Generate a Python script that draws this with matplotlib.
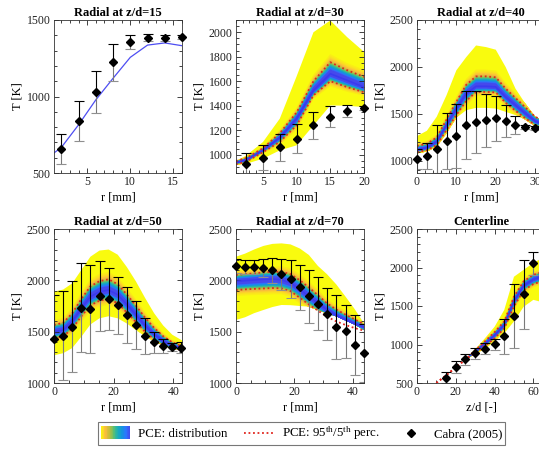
import numpy as np
import matplotlib
matplotlib.use('Agg')
import matplotlib.pyplot as plt
from matplotlib.colors import LinearSegmentedColormap
from matplotlib.legend_handler import HandlerBase
from matplotlib.patches import Rectangle
from matplotlib.lines import Line2D
from matplotlib.ticker import AutoMinorLocator

plt.rcParams['font.family'] = ['Liberation Serif', 'DejaVu Serif']
plt.rcParams['mathtext.fontset'] = 'custom'
plt.rcParams['mathtext.rm'] = 'Liberation Serif'
plt.rcParams['mathtext.it'] = 'Liberation Serif:italic'

# ---------------- data ----------------
titles = ['Radial at z/d=15', 'Radial at z/d=30', 'Radial at z/d=40',
          'Radial at z/d=50', 'Radial at z/d=70', 'Centerline']

# z/d = 15 (model mean only)
m15_r = [1.0, 2, 4, 6, 8, 10, 12, 14, 16]
m15_T = [625, 667, 815, 978, 1119, 1256, 1336, 1350, 1332]
e15_r = [2, 4, 6, 8, 10, 12, 14, 16]
e15_T = [658, 839, 1028, 1224, 1356, 1384, 1384, 1390]
e15_err = [100, 130, 137, 120, 48, 22, 18, 15]

# z/d = 30
m30_r = [1.0, 2.5, 5, 7.5, 10, 12.5, 15, 17.5, 20]
m30_mean = [935, 956, 1035, 1139, 1294, 1525, 1661, 1607, 1552]
m30_p95 = [948, 972, 1052, 1175, 1345, 1600, 1755, 1690, 1635]
m30_p5 = [922, 942, 1020, 1105, 1240, 1485, 1600, 1552, 1510]
m30_hi = [948, 992, 1103, 1294, 1640, 2000, 2096, 1960, 1840]
m30_lo = [915, 925, 967, 1035, 1076, 1239, 1402, 1400, 1388]
e30_r = [2.5, 5, 7.5, 10, 12.5, 15, 17.5, 20]
e30_T = [927, 976, 1060, 1131, 1239, 1310, 1356, 1380]
e30_err = [84, 105, 110, 120, 112, 85, 50, 18]

# z/d = 40
m40_r = [0, 2.5, 5, 7.5, 10, 12.5, 15, 17.5, 20, 22.5, 25, 27.5, 30, 32.5]
m40_mean = [1117, 1141, 1205, 1382, 1558, 1717, 1795, 1795, 1788, 1682, 1594, 1506, 1424, 1385]
m40_p95 = [1160, 1182, 1250, 1440, 1630, 1810, 1900, 1900, 1890, 1770, 1670, 1570, 1470, 1420]
m40_p5 = [1095, 1115, 1170, 1330, 1490, 1640, 1735, 1735, 1730, 1620, 1535, 1455, 1385, 1355]
m40_hi = [1265, 1321, 1470, 1700, 1965, 2105, 2229, 2212, 2184, 2000, 1770, 1611, 1470, 1420]
m40_lo = [1080, 1100, 1150, 1290, 1460, 1540, 1565, 1565, 1558, 1523, 1488, 1440, 1370, 1345]
e40_r = [0, 2.5, 5, 7.5, 10, 12.5, 15, 17.5, 20, 22.5, 25, 27.5, 30]
e40_T = [1021, 1050, 1127, 1212, 1270, 1380, 1413, 1431, 1452, 1424, 1382, 1364, 1353]
e40_err = [111, 140, 260, 300, 340, 360, 330, 285, 240, 170, 100, 22, 20]

# z/d = 50
m50_r = [0, 3.05, 6.1, 9.15, 12.2, 15.25, 18.3, 21.35, 24.4, 27.45, 30.5, 33.55, 36.6, 39.65, 42.9]
m50_mean = [1500, 1516, 1597, 1727, 1841, 1889, 1905, 1860, 1765, 1665, 1560, 1475, 1408, 1365, 1338]
m50_p95 = [1565, 1586, 1677, 1817, 1941, 1992, 2010, 1962, 1862, 1752, 1637, 1537, 1455, 1396, 1358]
m50_p5 = [1440, 1455, 1530, 1650, 1757, 1802, 1820, 1777, 1688, 1595, 1500, 1425, 1370, 1340, 1320]
m50_hi = [1890, 1910, 1970, 2100, 2230, 2290, 2300, 2250, 2130, 1990, 1830, 1680, 1560, 1470, 1415]
m50_lo = [1270, 1290, 1340, 1450, 1570, 1630, 1650, 1630, 1580, 1515, 1455, 1405, 1365, 1335, 1315]
e50_r = [0, 3.05, 6.1, 9.15, 12.2, 15.25, 18.3, 21.35, 24.4, 27.45, 30.5, 33.55, 36.6, 39.65, 42.7]
e50_T = [1426, 1461, 1548, 1734, 1721, 1847, 1821, 1757, 1662, 1565, 1458, 1396, 1360, 1348, 1344]
e50_err = [430, 435, 445, 430, 433, 340, 302, 280, 270, 237, 175, 105, 70, 40, 55]

# z/d = 70
m70_r = [0, 3.1, 6.2, 9.4, 12.5, 15.6, 18.7, 21.9, 25.0, 28.1, 31.2, 34.4, 37.6, 40.7, 43.9]
m70_mean = [1990, 1997, 2003, 2010, 2013, 2005, 1975, 1912, 1845, 1778, 1713, 1658, 1614, 1578, 1545]
m70_p95 = [2052, 2060, 2068, 2077, 2082, 2084, 2060, 2000, 1930, 1855, 1776, 1715, 1665, 1620, 1570]
m70_p5 = [1906, 1912, 1917, 1921, 1925, 1922, 1895, 1830, 1765, 1705, 1646, 1600, 1565, 1535, 1510]
m70_hi = [2230, 2260, 2300, 2335, 2355, 2360, 2350, 2310, 2247, 2140, 2060, 1960, 1840, 1720, 1580]
m70_lo = [1614, 1640, 1680, 1711, 1740, 1760, 1758, 1750, 1743, 1710, 1680, 1650, 1610, 1570, 1516]
e70_r = [0, 3.1, 6.2, 9.4, 12.5, 15.6, 18.7, 21.9, 25.0, 28.1, 31.2, 34.4, 37.6, 40.7, 43.8]
e70_T = [2140, 2127, 2127, 2120, 2098, 2059, 2013, 1932, 1844, 1772, 1669, 1545, 1503, 1370, 1292]
e70_err = [72, 70, 70, 85, 120, 150, 185, 220, 260, 256, 255, 315, 260, 290, 280]

# centerline
mcl_z = [10, 15, 20, 25, 30, 35, 40, 45, 50, 55, 60, 66]
mcl_mean = [500, 600, 703, 805, 907, 1010, 1120, 1255, 1560, 1765, 1845, 1895]
mcl_p95 = [500, 600, 703, 805, 925, 1040, 1160, 1300, 1620, 1820, 1905, 1950]
mcl_p5 = [500, 600, 703, 805, 888, 980, 1080, 1210, 1495, 1705, 1785, 1835]
mcl_hi = [500, 600, 703, 805, 935, 1080, 1230, 1450, 1880, 1970, 2060, 2140]
mcl_lo = [500, 600, 703, 805, 875, 940, 1040, 1145, 1300, 1490, 1580, 1540]
ecl_z = [15, 20, 25, 30, 35, 40, 45, 50, 55, 60]
ecl_T = [569, 712, 808, 886, 946, 1002, 1106, 1370, 1652, 2055]
ecl_err = [75, 80, 68, 75, 70, 75, 225, 410, 450, 150]

# ---------------- style ----------------
parula = LinearSegmentedColormap.from_list('parula', [
    (0.000, (0.2422, 0.1504, 0.6603)),
    (0.125, (0.2803, 0.2782, 0.9221)),
    (0.250, (0.1707, 0.4655, 0.9962)),
    (0.375, (0.0770, 0.5877, 0.8630)),
    (0.500, (0.1036, 0.6902, 0.7142)),
    (0.625, (0.3658, 0.7529, 0.4390)),
    (0.750, (0.7561, 0.7465, 0.2291)),
    (0.875, (0.9900, 0.7400, 0.2400)),
    (1.000, (0.9763, 0.9831, 0.0538))])
RED = '#e0261f'
BLUE = '#3a3af0'
DOT = (0, (1.0, 1.5))

W, H = 539, 451
fig = plt.figure(figsize=(W / 100, H / 100), dpi=100)


def add_ax(xl, yt, yb):
    return fig.add_axes([xl / W, 1 - yb / H, 128 / W, (yb - yt) / H])


def draw_band(ax, x, m, p5, p95, lo, hi, line_from=0):
    x = np.asarray(x, float); m = np.asarray(m, float)
    p5 = np.asarray(p5, float); p95 = np.asarray(p95, float)
    lo = np.asarray(lo, float); hi = np.asarray(hi, float)
    ax.fill_between(x, lo, hi, color=parula(1.0), lw=0, edgecolor='none')
    su = (p95 - m) / 1.645
    sd = (m - p5) / 1.645
    for t in np.linspace(2.8, 0.02, 60):
        dens = np.exp(-t * t / 2)
        c = parula(max(1 - dens, 0.13))
        ax.fill_between(x, np.clip(m - t * sd, lo, hi), np.clip(m + t * su, lo, hi),
                        color=c, lw=0, edgecolor='none')
    ax.plot(x[line_from:], m[line_from:], color=BLUE, lw=1.2)
    ax.plot(x, p95, color=RED, ls=DOT, lw=1.3)
    ax.plot(x, p5, color=RED, ls=DOT, lw=1.3)


def draw_exp(ax, x, y, e):
    x = np.asarray(x, float); y = np.asarray(y, float); e = np.asarray(e, float)
    ax.vlines(x, y, y + e, color='k', lw=0.8)
    ax.vlines(x, y - e, y, color='#7a7a7a', lw=0.8)
    ax.plot(x, y + e, ls='none', marker='_', ms=7, mew=0.8, color='k')
    ax.plot(x, y - e, ls='none', marker='_', ms=7, mew=0.8, color='#8f8f8f')
    ax.plot(x, y, ls='none', marker='D', ms=3.9, color='k', clip_on=False, zorder=6)


def style(ax, title, xlab, xlim, ylim, xt, yt):
    ax.set_xlim(*xlim); ax.set_ylim(*ylim)
    ax.set_xticks(xt); ax.set_yticks(yt)
    ax.xaxis.set_minor_locator(AutoMinorLocator())
    ax.yaxis.set_minor_locator(AutoMinorLocator())
    ax.tick_params(which='both', direction='in', top=True, right=True,
                   labelsize=8.5, width=0.6, colors='#222222', labelcolor='#222222', pad=2.5)
    ax.tick_params(which='major', length=3.5)
    ax.tick_params(which='minor', length=2)
    for s in ax.spines.values():
        s.set_linewidth(0.6); s.set_color('#333333')
    ax.set_title(title, fontsize=9, fontweight='bold', pad=3)
    ax.set_xlabel(xlab, fontsize=9, labelpad=2)
    ax.set_ylabel('T [K]', fontsize=9, labelpad=2)


# panel 1
ax = add_ax(54, 20, 173)
ax.plot(m15_r, m15_T, color='#4d4df2', lw=0.9)
draw_exp(ax, e15_r, e15_T, e15_err)
style(ax, titles[0], 'r [mm]', (1.15, 16), (500, 1500), [5, 10, 15], [500, 1000, 1500])

# panel 2
ax = add_ax(236, 20, 173)
draw_band(ax, m30_r, m30_mean, m30_p5, m30_p95, m30_lo, m30_hi)
draw_exp(ax, e30_r, e30_T, e30_err)
style(ax, titles[1], 'r [mm]', (1, 20), (850, 2100), [5, 10, 15, 20],
      [1000, 1200, 1400, 1600, 1800, 2000])

# panel 3
ax = add_ax(417, 20, 173)
draw_band(ax, m40_r, m40_mean, m40_p5, m40_p95, m40_lo, m40_hi)
draw_exp(ax, e40_r, e40_T, e40_err)
style(ax, titles[2], 'r [mm]', (0, 32.5), (872, 2500), [0, 10, 20, 30],
      [1000, 1500, 2000, 2500])

# panel 4
ax = add_ax(54, 229, 383)
draw_band(ax, m50_r, m50_mean, m50_p5, m50_p95, m50_lo, m50_hi)
draw_exp(ax, e50_r, e50_T, e50_err)
style(ax, titles[3], 'r [mm]', (0, 42.9), (1000, 2500), [0, 20, 40],
      [1000, 1500, 2000, 2500])

# panel 5
ax = add_ax(236, 229, 383)
draw_band(ax, m70_r, m70_mean, m70_p5, m70_p95, m70_lo, m70_hi)
draw_exp(ax, e70_r, e70_T, e70_err)
style(ax, titles[4], 'r [mm]', (0, 43.9), (1000, 2500), [0, 20, 40],
      [1000, 1500, 2000, 2500])

# panel 6
ax = add_ax(417, 229, 383)
draw_band(ax, mcl_z, mcl_mean, mcl_p5, mcl_p95, mcl_lo, mcl_hi, line_from=4)
draw_exp(ax, ecl_z, ecl_T, ecl_err)
style(ax, titles[5], 'z/d [-]', (0, 66), (500, 2500), [0, 20, 40, 60],
      [500, 1000, 1500, 2000, 2500])


# ---------------- legend ----------------
class GradientHandler(HandlerBase):
    def create_artists(self, legend, orig_handle, xdescent, ydescent, width, height,
                       fontsize, trans):
        n = 40
        arts = []
        for i in range(n):
            r = Rectangle((-xdescent + i * width / n, -ydescent - 0.15 * height),
                          width / n * 1.08, height * 1.3,
                          facecolor=parula(1 - i / (n - 1) * 0.87), edgecolor='none',
                          lw=0, transform=trans)
            arts.append(r)
        return arts


proxy = Rectangle((0, 0), 1, 1)
red_h = Line2D([], [], color=RED, ls=DOT, lw=1.3)
dia_h = Line2D([], [], color='k', ls='none', marker='D', ms=3.9)
leg = fig.legend([proxy, red_h, dia_h],
                 ['PCE: distribution', r'PCE: 95$^{\rm th}$/5$^{\rm th}$ perc.', 'Cabra (2005)'],
                 handler_map={proxy: GradientHandler()},
                 loc='center', bbox_to_anchor=(301.5 / W, 1 - 433.5 / H), ncol=3,
                 frameon=True, fancybox=False, edgecolor='#555555', fontsize=9.3,
                 handlelength=2.3, handleheight=0.8, columnspacing=1.3,
                 borderpad=0.2, handletextpad=0.6)
leg.get_frame().set_linewidth(0.8)

fig.savefig('out.png', dpi=100)
